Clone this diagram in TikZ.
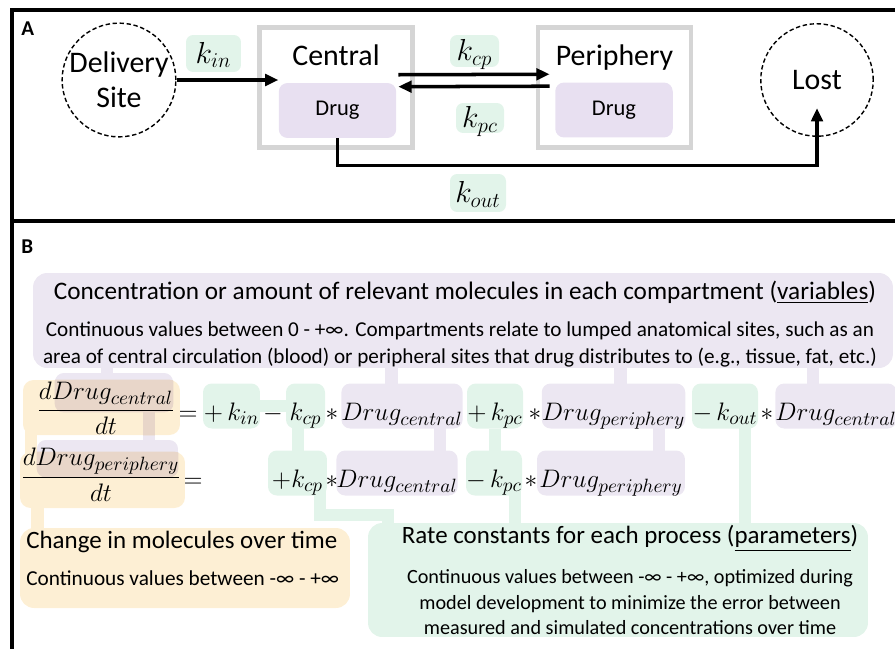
\documentclass[tikz,border=0pt]{standalone}
\usepackage{amsmath}
\usepackage{fontspec}
\setmainfont{Carlito}
\usetikzlibrary{arrows.meta,backgrounds}

\definecolor{frameGray}{HTML}{D5D5D5}
\definecolor{drugLilac}{HTML}{E8E0F1}
\definecolor{varLilac}{HTML}{ECE7F2}
\definecolor{parMint}{HTML}{E2F4EA}
\definecolor{chgSand}{HTML}{FDEFD4}
\definecolor{overlapTan}{HTML}{E8D6C9}

\begin{document}
\begin{tikzpicture}[x=0.02cm, y=-0.02cm, inner sep=0pt,
  panel/.style={line width=2.3pt},
  comp/.style={draw=frameGray, line width=2.8pt, minimum width=3.06cm, minimum height=2.4cm},
  compname/.style={anchor=base, font=\fontsize{17}{20}\selectfont},
  drugbox/.style={fill=drugLilac, rounded corners=5pt, minimum width=2.35cm, minimum height=1.1cm, font=\fontsize{12.8}{15}\selectfont},
  site/.style={circle, draw, dash pattern=on 2.5pt off 1.5pt, line width=0.8pt, minimum size=2.25cm, align=center, font=\fontsize{17}{20}\selectfont},
  rlabel/.style={fill=parMint, rounded corners=4pt, text height=14pt, text depth=3pt, font=\fontsize{17.5}{20}\selectfont},
  flow/.style={-{Triangle[length=7.5pt,width=6.5pt]}, line width=2pt},
  term/.style={rounded corners=5pt, minimum height=0.9cm, text height=21pt, text depth=4pt, font=\fontsize{15}{18}\selectfont},
  vterm/.style={term, fill=varLilac},
  pterm/.style={term, fill=parMint},
  opsym/.style={term},
  vconn/.style={draw=varLilac, line width=7pt},
  pconn/.style={draw=parMint, line width=7pt},
  oconn/.style={draw=chgSand, line width=7pt},
  title/.style={font=\fontsize{14.2}{17}\selectfont},
  body/.style={font=\fontsize{11.5}{14.6}\selectfont}]
  \useasboundingbox (0,0) rectangle (895,649);

  % panel A
  \draw[panel] (895,10) -| (12,649);
  \draw[panel] (12,221) -- (895,221);
  \node[anchor=base west, font=\bfseries\fontsize{12}{14}\selectfont] (labA) at (21,35) {A};

  \node[site] (deliv) at (119,80) {Delivery\\Site};
  \node[site] (lost) at (817,80) {Lost};

  \node[comp] (central) at (336,87.5) {};
  \node[compname] (cname) at (336,65) {Central};
  \node[drugbox] (drugc) at (337.5,110.5) {Drug};

  \node[comp] (periph) at (614.5,87.5) {};
  \node[compname] (pname) at (614.5,65) {Periphery};
  \node[drugbox] (drugp) at (614,110) {Drug};

  \node[rlabel, minimum width=1.1cm, minimum height=0.74cm] (rin) at (213.5,53.5) {$k_{in}$};
  \node[rlabel, minimum width=0.98cm, minimum height=0.64cm] (rcp) at (474.5,51) {$k_{cp}$};
  \node[rlabel, minimum width=0.96cm, minimum height=0.6cm] (rpc) at (480,118) {$k_{pc}$};
  \node[rlabel, minimum width=1.12cm, minimum height=0.76cm] (rout) at (478,193) {$k_{out}$};

  \draw[flow] (deliv) -- (deliv -| drugc.west);
  \draw[flow] ([xshift=1pt,yshift=4.5pt]drugc.north east) -- ([xshift=-3pt,yshift=4.5pt]drugp.north west);
  \draw[flow] ([xshift=-3pt,yshift=-2.3pt]drugp.north west) -- ([xshift=1pt,yshift=-2.3pt]drugc.north east);
  \draw[flow] (drugc.south) -- ++(0,27) -| ([yshift=-16pt]lost.center);

  % panel B
  \node[anchor=base west, font=\bfseries\fontsize{12}{14}\selectfont] (labB) at (21,253) {B};

  \node[fill=varLilac, rounded corners=8pt, minimum width=17.2cm, minimum height=1.9cm] (hdr) at (463,320.5) {};
  \node[title, anchor=base, font=\fontsize{14.35}{17}\selectfont] (hdrtitle) at (465,299) {Concentration or amount of relevant molecules in each compartment (\underline{variables})};
  \node[body, align=center, anchor=north, font=\fontsize{12.05}{15.4}\selectfont] (hdrbody) at (460,321) {Continuous values between 0 - +∞. Compartments relate to lumped anatomical sites, such as an\\area of central circulation (blood) or peripheral sites that drug distributes to (e.g., tissue, fat, etc.)};

  \node[fill=varLilac, rounded corners=5pt, minimum width=2.36cm, minimum height=0.78cm] (vnum1) at (114,392.5) {};
  \node[fill=varLilac, rounded corners=5pt, minimum width=2.82cm, minimum height=0.74cm] (vnum2) at (107.5,458.5) {};

  % first equation
  \node[opsym] (eq1) at (188,406) {$=$};
  \node[pterm, minimum width=1.14cm] (kin) at (231.5,406) {$+\,k_{in}$};
  \node[opsym] (minus1) at (273,406) {$-$};
  \node[pterm, minimum width=0.78cm] (kcp1) at (305.5,406) {$k_{cp}$};
  \node[opsym] (star1) at (332,406) {$*$};
  \node[vterm, minimum width=2.4cm] (dc1) at (402,406) {$Drug_{central}$};
  \node[pterm, minimum width=1.12cm] (kpc1) at (495,406) {$+\,k_{pc}$};
  \node[opsym] (star2) at (535,406) {$*$};
  \node[vterm, minimum width=2.86cm] (dp1) at (613.5,406) {$Drug_{periphery}$};
  \node[pterm, minimum width=1.32cm] (kout) at (725,406) {$-\,k_{out}$};
  \node[opsym] (star3) at (767,406) {$*$};
  \node[vterm, minimum width=2.4cm] (dc3) at (836,406) {$Drug_{central}$};

  % second equation
  \node[opsym] (eq2) at (193,473) {$=$};
  \node[pterm, minimum width=1.18cm] (kcp2) at (297.5,473) {$+k_{cp}$};
  \node[opsym] (star4) at (332,473) {$*$};
  \node[vterm, minimum width=2.4cm] (dc2) at (397,473) {$Drug_{central}$};
  \node[pterm, minimum width=1.12cm] (kpc2) at (494,473) {$-\,k_{pc}$};
  \node[opsym] (star5) at (531,473) {$*$};
  \node[vterm, minimum width=2.96cm] (dp2) at (611,473) {$Drug_{periphery}$};

  \node[fill=chgSand, rounded corners=6pt, minimum width=3.14cm, minimum height=1.1cm] (o1) at (101.5,407.5) {};
  \node[fill=chgSand, rounded corners=6pt, minimum width=3.3cm, minimum height=1.12cm] (o2) at (102.5,480) {};
  \node[fill=chgSand, rounded corners=8pt, minimum width=6.6cm, minimum height=1.6cm] (chg) at (185,568) {};

  % where the lilac boxes show through the sand ones
  \begin{scope}
    \clip[rounded corners=6pt] (o1.south west) rectangle (o1.north east);
    \fill[overlapTan, rounded corners=5pt] (vnum1.south west) rectangle (vnum1.north east);
    \draw[vconn, draw=overlapTan] ([xshift=20pt]vnum1.center) -- ([xshift=20pt]vnum1.center |- vnum2.center);
  \end{scope}
  \begin{scope}
    \clip[rounded corners=6pt] (o2.south west) rectangle (o2.north east);
    \fill[overlapTan, rounded corners=5pt] (vnum2.south west) rectangle (vnum2.north east);
  \end{scope}

  \node[anchor=base, font=\fontsize{15}{18}\selectfont] (frac1) at (106,417) {$\dfrac{dDrug_{central}}{dt}$};
  \node[anchor=base, font=\fontsize{15}{18}\selectfont] (frac2) at (101,484) {$\dfrac{dDrug_{periphery}}{dt}$};

  \node[title, anchor=base west] (chgtitle) at (26,548) {Change in molecules over time};
  \node[body, anchor=base west, font=\fontsize{12.1}{14.4}\selectfont] (chgbody) at (26,585) {Continuous values between -∞ - +∞};

  \node[fill=parMint, rounded corners=8pt, minimum width=10cm, minimum height=2.28cm] (rate) at (618,580) {};
  \node[title, anchor=base] (ratetitle) at (630,543) {Rate constants for each process (\underline{parameters})};
  \node[body, align=center, anchor=north] (ratebody) at (630,569) {Continuous values between -∞ - +∞, optimized during\\model development to minimize the error between\\measured and simulated concentrations over time};

  \coordinate (kbend) at (388,515);

  \begin{scope}[on background layer]
    \draw[vconn] ([xshift=-4pt]vnum1.center) -- ([xshift=-4pt]vnum1.center |- hdr.center);
    \draw[vconn] ([xshift=-6pt]dc1.center) -- ([xshift=-6pt]dc1.center |- hdr.center);
    \draw[vconn] ([xshift=4pt]dp1.center) -- ([xshift=4pt]dp1.center |- hdr.center);
    \draw[vconn] ([xshift=-13pt]dc3.center) -- ([xshift=-13pt]dc3.center |- hdr.center);
    \draw[vconn] ([xshift=20pt]vnum1.center) -- ([xshift=20pt]vnum1.center |- vnum2.center);
    \draw[vconn] ([xshift=21.5pt]dc1.center) -- ([xshift=21.5pt]dc1.center |- dc2.center);
    \draw[vconn] ([xshift=26pt]dp1.center) -- ([xshift=26pt]dp1.center |- dp2.center);

    \draw[pconn] (kin) -- (kcp1);
    \draw[pconn] ([xshift=-4.3pt]kcp1.center) -- ([xshift=-4.3pt]kcp1.center |- kcp2.center);
    \draw[pconn] (kpc1) -- (kpc1 |- kpc2);
    \draw[pconn] ([xshift=11.4pt]kout.center) -- ([xshift=11.4pt]kout.center |- rate.center);
    \draw[pconn] ([xshift=12pt]kpc2.center) -- ([xshift=12pt]kpc2.center |- rate.center);
    \draw[pconn] ([xshift=12.8pt]kcp2.center) |- (kbend) -- (kbend |- rate.center);

    \draw[oconn] ([xshift=-40pt]o1.center) -- ([xshift=-40pt]o1.center |- o2.center);
    \draw[oconn] ([xshift=-37pt]o2.center) -- ([xshift=-37pt]o2.center |- chg.center);
  \end{scope}
\end{tikzpicture}
\end{document}
